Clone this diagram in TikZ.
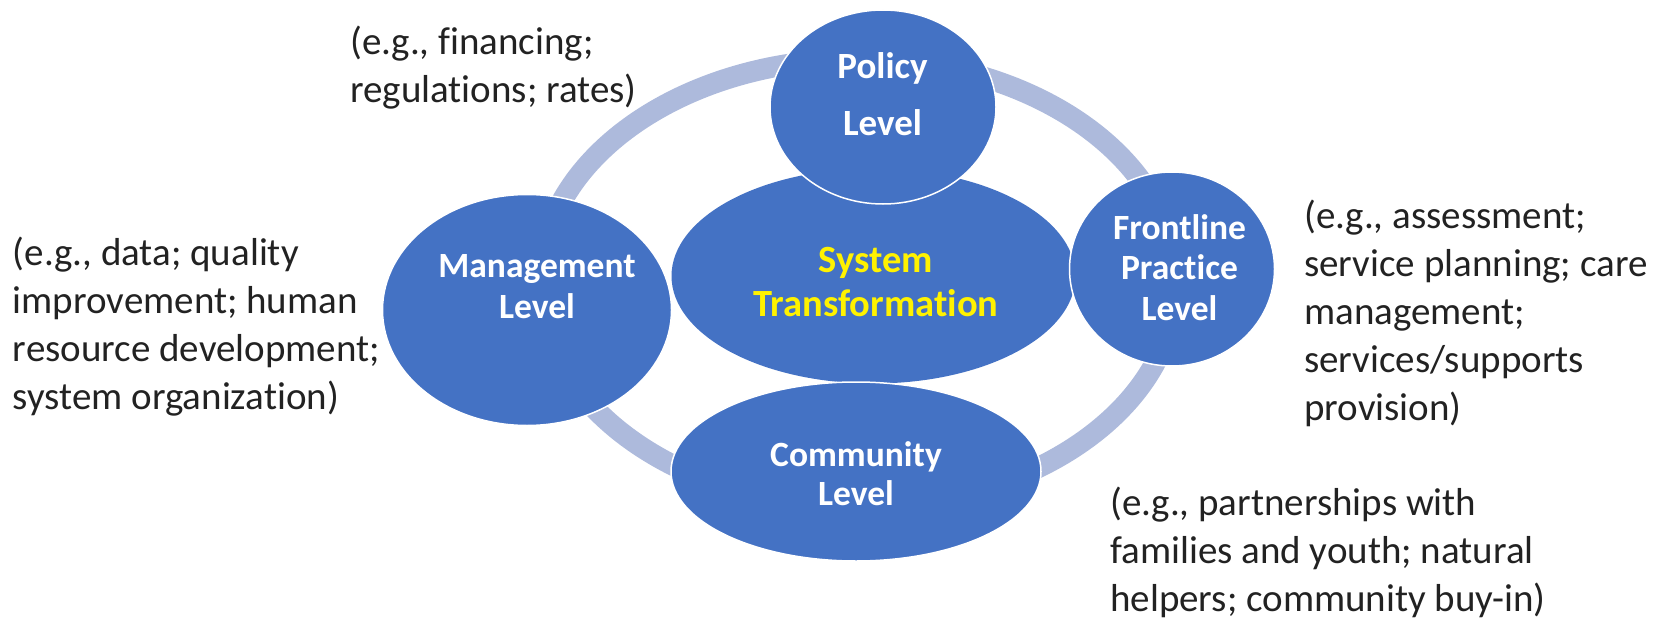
\documentclass[tikz,border=0pt]{standalone}
\usepackage{fontspec}
\setmainfont{Carlito}[RawFeature={-liga}]
\usetikzlibrary{shapes.geometric}
\definecolor{nodeblue}{HTML}{4472C4}
\definecolor{ringblue}{HTML}{ADBADC}
\definecolor{txt}{HTML}{222222}
\begin{document}
\begin{tikzpicture}[x=1pt,y=-1pt,
  blob/.style={ellipse, fill=nodeblue, draw=white, line width=1.5pt, inner sep=0pt, outer sep=0pt},
  lvl/.style={font=\bfseries\fontsize{35}{40.5}\selectfont, text=white, align=center, inner sep=0pt},
  note/.style={font=\fontsize{39}{48}\selectfont, text=txt, align=left, inner sep=0pt, anchor=north west}]
\useasboundingbox (0,0) rectangle (1665,618);
% ring
\coordinate (ringc) at (858,283);
\draw[ringblue, line width=21pt] (ringc) ellipse [x radius=318pt, y radius=224pt];
% ellipses
\node[blob, draw=none, minimum width=404pt, minimum height=215pt] (center) at (873.5,276) {};
\node[blob, minimum width=226pt, minimum height=194pt] (policy) at (883,107) {};
\node[blob, minimum width=289pt, minimum height=231pt] (mgmt) at (527,310) {};
\node[blob, minimum width=205pt, minimum height=194pt] (front) at (1172,269) {};
\node[blob, minimum width=370pt, minimum height=179pt] (comm) at (856,471.5) {};
% labels
\node[lvl, font=\bfseries\fontsize{37}{57}\selectfont] (policyt) at (882.5,94) {Policy\\Level};
\node[lvl, text=yellow, font=\bfseries\fontsize{38.5}{43.5}\selectfont] (centert) at (876,282) {System\\Transformation};
\node[lvl, font=\bfseries\fontsize{35.5}{41}\selectfont] (mgmtt) at (537,287) {Management\\Level};
\node[lvl, font=\bfseries\fontsize{35.5}{40.5}\selectfont] (frontt) at (1179.5,267.5) {Frontline\\Practice\\Level};
\node[lvl, font=\bfseries\fontsize{35.5}{39.3}\selectfont] (commt) at (856,474) {Community\\Level};
% notes
\node[note] (finnote) at (350,26) {(e.g., financing;\\regulations; rates)};
\node[note] (mgmtnote) at (12.7,236.5) {(e.g., data; quality\\improvement; human\\resource development;\\system organization)};
\node[note] (frontnote) at (1304,200) {(e.g., assessment;\\service planning; care\\management;\\services/supports\\provision)};
\node[note] (commnote) at (1110,486.5) {(e.g., partnerships with\\families and youth; natural\\helpers; community buy-in)};
\end{tikzpicture}
\end{document}
